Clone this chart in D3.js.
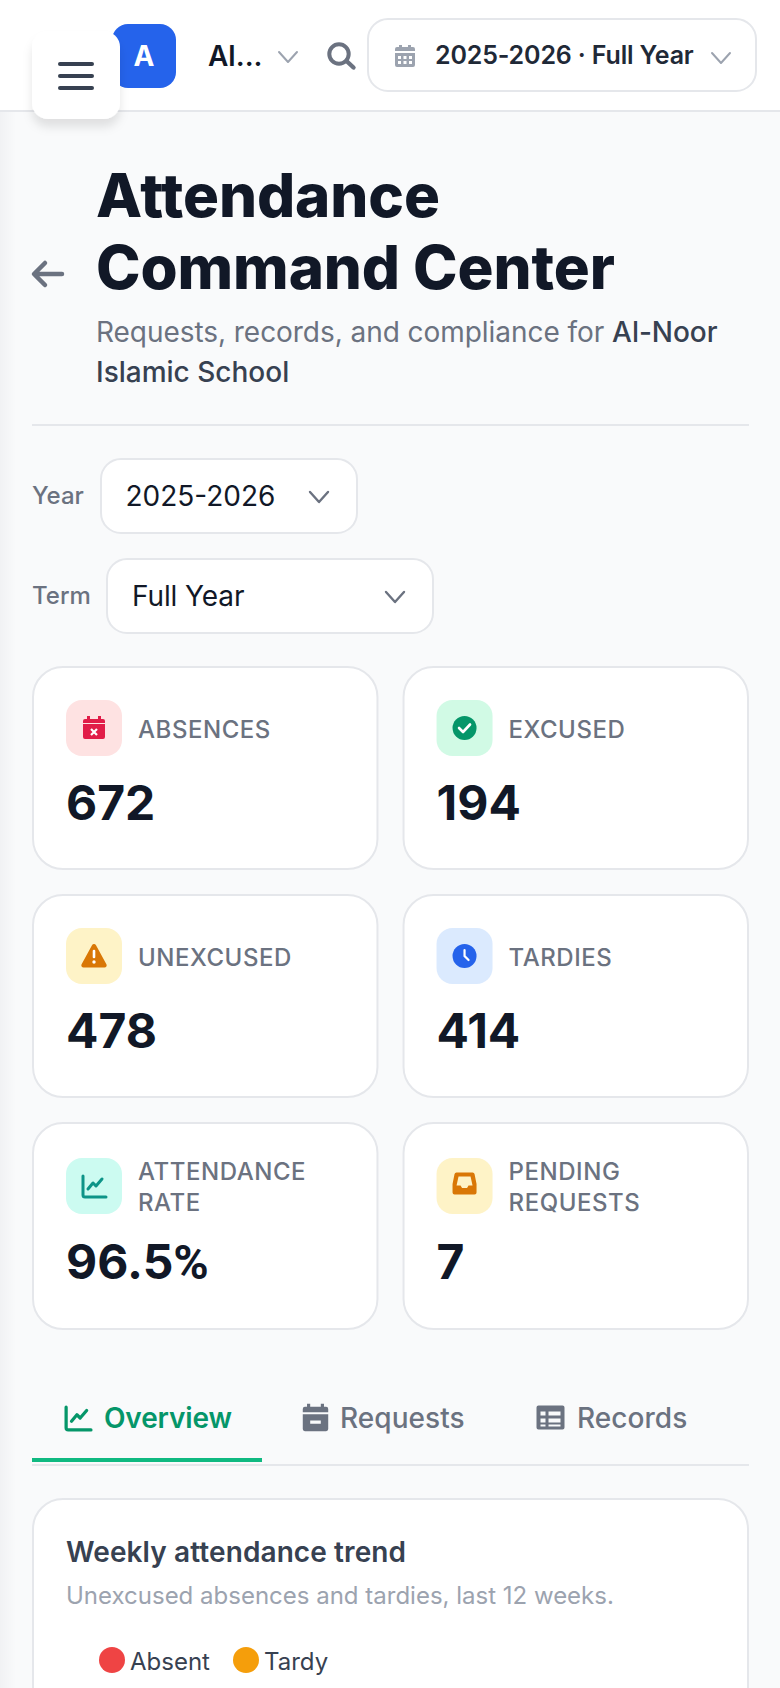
<!DOCTYPE html>
<html>
<head>
<meta charset="utf-8">
<script src="https://cdn.jsdelivr.net/npm/d3@7"></script>
<style>
  html, body { margin: 0; padding: 0; background: #f9fafb; }
  svg { display: block; font-family: Inter, "Noto Sans", sans-serif; }
</style>
</head>
<body>
<svg id="page" width="780" height="1688"></svg>
<script>
/* DATA */
var kpiLabels = [["ABSENCES"], ["EXCUSED"], ["UNEXCUSED"], ["TARDIES"], ["ATTENDANCE", "RATE"], ["PENDING", "REQUESTS"]];
var kpiValues = ["672", "194", "478", "414", "96.5", "7"];
var kpiUnits = ["", "", "", "", "%", ""];
var kpiIcons = ["calendar", "check", "warn", "clock", "chart", "inbox"];
var kpiTints = ["#fee2e2", "#d1fae5", "#fef3c7", "#dbeafe", "#ccfbf1", "#fef3c7"];
var kpiInks = ["#e11d48", "#059669", "#d97706", "#2563eb", "#0d9488", "#d97706"];
var tabNames = ["Overview", "Requests", "Records"];
var legendNames = ["Absent", "Tardy"];
var legendColors = ["#ef4444", "#f59e0b"];

/* SETUP */
var svg = d3.select("#page");
var ink = "#111827", grey = "#6b7280", line = "#e5e7eb";

function translate(x, y) {
  return "translate(" + x + "," + y + ")";
}

function label(g, x, y, str, size, weight, color) {
  return g.append("text").attr("x", x).attr("y", y).text(str)
    .attr("font-size", size).attr("font-weight", weight).attr("fill", color);
}

function box(g, x, y, w, h, r, fill, stroke) {
  return g.append("rect").attr("x", x).attr("y", y).attr("width", w).attr("height", h)
    .attr("rx", r).attr("fill", fill).attr("stroke", stroke || "none").attr("stroke-width", 2);
}

function chevron(g, x, y, w, h, color, sw) {
  g.append("path").attr("d", "M" + x + " " + y + "L" + (x + w / 2) + " " + (y + h) + "L" + (x + w) + " " + y)
    .attr("fill", "none").attr("stroke", color).attr("stroke-width", sw)
    .attr("stroke-linecap", "round").attr("stroke-linejoin", "round");
}

/* ICONS, each drawn around 0,0 */
var icons = {
  calendar: function(g, c) {
    g.append("path").attr("fill", c).attr("fill-rule", "evenodd")
      .attr("d", "M-7-12h3v3h8v-3h3v3h2a2 2 0 0 1 2 2v2h-22v-2a2 2 0 0 1 2-2h2zM-11-4h22v13a2 2 0 0 1-2 2h-18a2 2 0 0 1-2-2z");
    g.append("path").attr("d", "M-3 1l6 6M3 1l-6 6").attr("stroke", "#fff").attr("stroke-width", 2.2);
  },
  check: function(g, c) {
    g.append("circle").attr("r", 12).attr("fill", c);
    g.append("path").attr("d", "M-5.5 0l4 4l7-7.5").attr("fill", "none").attr("stroke", "#fff").attr("stroke-width", 2.6)
      .attr("stroke-linecap", "round").attr("stroke-linejoin", "round");
  },
  warn: function(g, c) {
    g.append("path").attr("fill", c).attr("d", "M0-12a2.4 2.4 0 0 1 2 1.2l10.4 19a2.2 2.2 0 0 1-2 3.3h-20.800a2.200 2.200 0 0 1-2-3.300l10.400-19a2.400 2.400 0 0 1 2-1.200z");
    g.append("path").attr("d", "M0-5v6").attr("stroke", "#fff").attr("stroke-width", 2.6).attr("stroke-linecap", "round");
    g.append("circle").attr("cy", 6).attr("r", 1.7).attr("fill", "#fff");
  },
  clock: function(g, c) {
    g.append("circle").attr("r", 12).attr("fill", c);
    g.append("path").attr("d", "M0-6v6l4 4").attr("fill", "none").attr("stroke", "#fff").attr("stroke-width", 2.2).attr("stroke-linecap", "round");
  },
  chart: function(g, c) {
    g.append("path").attr("d", "M-11-10v19a2 2 0 0 0 2 2h21").attr("fill", "none").attr("stroke", c).attr("stroke-width", 3).attr("stroke-linecap", "round");
    g.append("path").attr("d", "M-6 3l5-6l3 3l6-7").attr("fill", "none").attr("stroke", c).attr("stroke-width", 3).attr("stroke-linecap", "round").attr("stroke-linejoin", "round");
  },
  inbox: function(g, c) {
    g.append("path").attr("fill", c).attr("fill-rule", "evenodd")
      .attr("d", "M-8-12h16a2 2 0 0 1 2 1.500l2 10v8.500a2 2 0 0 1-2 2h-20a2 2 0 0 1-2-2v-8.500l2-10a2 2 0 0 1 2-1.500zM-6-8l-2 9h4l1.500 2.500h5l1.500-2.500h4l-2-9z");
  },
  search: function(g, c) {
    g.append("circle").attr("cx", -3).attr("cy", -1).attr("r", 9.7).attr("fill", "none").attr("stroke", c).attr("stroke-width", 4);
    g.append("path").attr("d", "M4.500 6L11.500 12.500").attr("stroke", c).attr("stroke-width", 4.400).attr("stroke-linecap", "round");
  },
  table: function(g, c) {
    g.append("path").attr("fill", c).attr("fill-rule", "evenodd")
      .attr("d", "M-12-12h24a2 2 0 0 1 2 2v20a2 2 0 0 1-2 2h-24a2 2 0 0 1-2-2v-20a2 2 0 0 1 2-2zM-10-6v4h5v-4zM-2-6v4h12v-4zM-10 1v4h5v-4zM-2 1v4h12v-4zM-10 7v2h5v-2zM-2 7v2h12v-2z");
  },
  calendarMinus: function(g, c) {
    g.append("path").attr("fill", c).attr("fill-rule", "evenodd")
      .attr("d", "M-8-14h3v3h10v-3h3v3h2a2 2 0 0 1 2 2v3h-24v-3a2 2 0 0 1 2-2h2zM-12-4h24v14a2 2 0 0 1-2 2h-20a2 2 0 0 1-2-2zM-5 2v3h10v-3z");
  },
  calendarGrid: function(g, c) {
    g.append("path").attr("fill", c).attr("fill-rule", "evenodd")
      .attr("d", "M-6-11h3v2h6v-2h3v2h2a2 2 0 0 1 2 2v2h-20v-2a2 2 0 0 1 2-2h2zM-10-3h20v12a2 2 0 0 1-2 2h-16a2 2 0 0 1-2-2zM-7 0v3h3v-3zM-1.500 0v3h3v-3zM4 0v3h3v-3zM-7 5v3h3v-3zM-1.500 5v3h3v-3zM4 5v3h3v-3z");
  }
};

/* BACKGROUND AND SIDEBAR EDGE */
function drawBackground() {
  var defs = svg.append("defs");
  var edge = defs.append("linearGradient").attr("id", "edge");
  edge.append("stop").attr("offset", "0%").attr("stop-color", "#f1f2f4");
  edge.append("stop").attr("offset", "100%").attr("stop-color", "#f9fafb");
  var shadow = defs.append("filter").attr("id", "btnShadow").attr("x", "-30%").attr("y", "-30%").attr("width", "160%").attr("height", "170%");
  shadow.append("feDropShadow").attr("dx", 0).attr("dy", 8).attr("stdDeviation", 5)
    .attr("flood-color", "#000").attr("flood-opacity", 0.1);
  box(svg, 0, 0, 780, 1688, 0, "#f9fafb");
  svg.append("rect").attr("x", 0).attr("y", 111).attr("width", 16).attr("height", 1577).attr("fill", "url(#edge)");
}

/* TOP BAR */
function drawTopBar() {
  var g = svg.append("g").attr("id", "topbar");
  box(g, 0, 0, 780, 110, 0, "#fff");
  box(g, 0, 110, 780, 2, 0, line);
  box(g, 112, 24, 64, 64, 16, "#2563eb");
  label(g, 144, 66, "A", 28, 700, "#fff").attr("text-anchor", "middle");
  label(g, 208, 66, "Al...", 28, 600, ink);
  chevron(g, 279, 52, 18, 10, "#9ca3af", 2);
  icons.search(g.append("g").attr("transform", translate(342, 55)), grey);
  box(g, 368, 19, 388, 72, 20, "#fff", line);
  icons.calendarGrid(g.append("g").attr("transform", translate(405, 56)), "#9ca3af");
  label(g, 435, 64, "2025-2026 · Full Year", 25, 600, "#1f2937").attr("letter-spacing", -0.15);
  chevron(g, 712, 53, 18, 10, "#9ca3af", 2);

  var btn = g.append("g").attr("id", "menu-button");
  box(btn, 32, 31, 88, 88, 16, "#fff").attr("filter", "url(#btnShadow)");
  d3.range(3).forEach(function(i) {
    box(btn, 58, 62 + i * 12, 36, 4, 2, "#374151");
  });
}

/* PAGE HEADING */
function drawHeading() {
  var g = svg.append("g").attr("id", "heading");
  g.append("path").attr("d", "M62 274H35M45 263L34 274L45 285").attr("fill", "none").attr("stroke", grey)
    .attr("stroke-width", 4.5).attr("stroke-linecap", "round").attr("stroke-linejoin", "round");
  label(g, 96, 217, "Attendance", 60, 800, ink).attr("letter-spacing", -0.1);
  label(g, 96, 289, "Command Center", 60, 800, ink).attr("letter-spacing", -0.1);
  var sub = label(g, 96, 342, "Requests, records, and compliance for ", 28, 400, grey).attr("letter-spacing", -0.05);
  sub.append("tspan").attr("font-weight", 500).attr("fill", "#374151").text("Al-Noor");
  label(g, 96, 382, "Islamic School", 28, 500, "#374151");
  box(g, 32, 424, 717, 2, 0, line);
}

/* FILTER ROW */
function drawFilters() {
  var g = svg.append("g").attr("id", "filters");
  label(g, 32, 504, "Year", 24, 500, grey);
  box(g, 101, 459, 256, 74, 20, "#fff", line);
  label(g, 125.500, 506, "2025-2026", 28, 400, ink);
  chevron(g, 310, 492, 18, 10, grey, 2.4);
  label(g, 32, 604, "Term", 24, 500, grey);
  box(g, 107, 559, 326, 74, 20, "#fff", line);
  label(g, 132, 606, "Full Year", 28, 400, ink).attr("letter-spacing", -0.1);
  chevron(g, 386, 592, 18, 10, grey, 2.4);
}

/* KPI CARDS */
function drawCards() {
  var x = d3.scaleBand().domain([0, 1]).range([32, 749]).paddingInner(0.065);
  var tops = [666, 894, 1122];
  var heights = [204, 204, 208];

  var cards = svg.append("g").attr("id", "cards").selectAll("g")
    .data(kpiValues)
    .enter()
    .append("g")
    .attr("transform", function(d, i) { return translate(x(i % 2), tops[Math.floor(i / 2)]); });

  cards.each(function(d, i) {
    var g = d3.select(this);
    var two = kpiLabels[i].length > 1;
    box(g, 1, 1, x.bandwidth() - 2, heights[Math.floor(i / 2)] - 2, 30, "#fff", line);
    var tileY = two ? 36 : 34;
    box(g, 34, tileY, 56, 56, 16, kpiTints[i]);
    icons[kpiIcons[i]](g.append("g").attr("transform", translate(62, tileY + 28 - (kpiIcons[i] === "inbox" ? 1.5 : 0))), kpiInks[i]);
    kpiLabels[i].forEach(function(t, j) {
      label(g, 106, two ? 58 + j * 30.500 : 72, t, 24, 500, grey).attr("letter-spacing", 0.55);
    });
    var value = label(g, 34, two ? 157 : 154, d, 48, 700, ink);
    if (kpiUnits[i]) {
      // the percent sign is narrower in the original than in this Inter
      value.append("tspan").attr("font-family", "Roboto").text(kpiUnits[i]);
    }
  });
}

/* TABS */
function drawTabs() {
  var g = svg.append("g").attr("id", "tabs");
  var textX = [104, 340, 577];
  var colors = ["#059669", grey, grey];
  var tabIcons = ["chart", "calendarMinus", "table"];
  var iconX = [78, 315.500, 550.500];
  var iconY = [1418, 1418.500, 1417.500];
  var iconScale = [1.08, 1.06, 1];
  box(g, 32, 1464, 717, 2, 0, line);
  box(g, 32, 1458, 230, 4, 0, "#10b981");
  tabNames.forEach(function(t, i) {
    label(g, textX[i], 1428, t, 28, i === 0 ? 600 : 500, colors[i]).attr("letter-spacing", i === 0 ? -0.15 : 0.05);
    icons[tabIcons[i]](g.append("g").attr("transform", translate(iconX[i], iconY[i]) + " scale(" + iconScale[i] + ")"), colors[i]);
  });
}

/* TREND PANEL */
function drawPanel() {
  var g = svg.append("g").attr("id", "panel");
  box(g, 33, 1499, 715, 240, 30, "#fff", line);
  label(g, 66, 1562, "Weekly attendance trend", 28, 600, "#374151").attr("letter-spacing", 0.1);
  label(g, 66, 1604, "Unexcused absences and tardies, last 12 weeks.", 24, 400, "#9ca3af");

  var dotX = d3.scalePoint().domain(legendNames).range([112, 246]);
  var items = g.selectAll("g.legend").data(legendNames).enter().append("g")
    .attr("class", "legend")
    .attr("transform", function(d) { return translate(dotX(d), 1660); });
  items.append("circle").attr("r", 13).attr("fill", function(d, i) { return legendColors[i]; });
  items.append("text").attr("x", 18).attr("y", 10).attr("font-size", 24).attr("fill", "#374151")
    .text(function(d) { return d; });
}

drawBackground();
drawHeading();
drawFilters();
drawCards();
drawTabs();
drawPanel();
drawTopBar();
</script>
</body>
</html>
